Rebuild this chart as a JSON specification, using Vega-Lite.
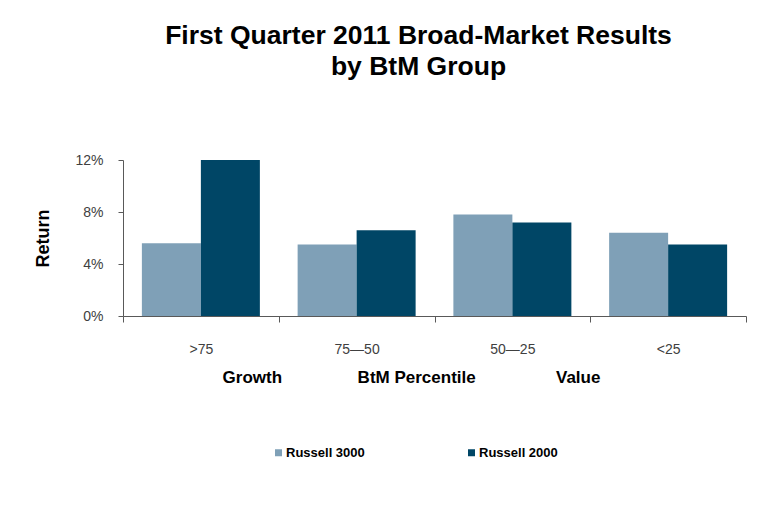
{
  "$schema": "https://vega.github.io/schema/vega-lite/v6.json",
  "width": 623,
  "height": 156,
  "autosize": {"type": "none"},
  "padding": {"left": 123, "top": 160, "right": 23, "bottom": 192},
  "background": "white",
  "title": {
    "text": ["First Quarter 2011 Broad-Market Results", "by BtM Group"],
    "font": "Liberation Sans",
    "fontSize": 26.5,
    "fontWeight": "bold",
    "color": "#000000",
    "lineHeight": 31,
    "anchor": "middle",
    "dx": -16,
    "offset": 73
  },
  "data": {
    "values": [
      {"group": ">75", "series": "Russell 3000", "ret": 0.056},
      {"group": ">75", "series": "Russell 2000", "ret": 0.120},
      {"group": "75—50", "series": "Russell 3000", "ret": 0.055},
      {"group": "75—50", "series": "Russell 2000", "ret": 0.066},
      {"group": "50—25", "series": "Russell 3000", "ret": 0.078},
      {"group": "50—25", "series": "Russell 2000", "ret": 0.072},
      {"group": "<25", "series": "Russell 3000", "ret": 0.064},
      {"group": "<25", "series": "Russell 2000", "ret": 0.055}
    ]
  },
  "mark": {"type": "bar"},
  "encoding": {
    "x": {
      "field": "group",
      "type": "nominal",
      "sort": [">75", "75—50", "50—25", "<25"],
      "scale": {"paddingInner": 0, "paddingOuter": 0},
      "axis": {
        "title": "Growth\u00a0\u00a0\u00a0\u00a0\u00a0\u00a0\u00a0\u00a0\u00a0\u00a0\u00a0\u00a0\u00a0\u00a0\u00a0\u00a0BtM Percentile\u00a0\u00a0\u00a0\u00a0\u00a0\u00a0\u00a0\u00a0\u00a0\u00a0\u00a0\u00a0\u00a0\u00a0\u00a0\u00a0\u00a0Value",
        "titleFont": "Liberation Sans",
        "titleFontSize": 17,
        "titleFontWeight": "bold",
        "titleColor": "#000000",
        "titleX": 288,
        "titleY": 66,
        "titleAlign": "center",
        "titleBaseline": "alphabetic",
        "labelAngle": 0,
        "labelFont": "Liberation Sans",
        "labelFontSize": 14,
        "labelColor": "#404040",
        "labelPadding": 20,
        "tickBand": "extent",
        "tickSize": 6,
        "tickColor": "#595959",
        "domainColor": "#595959",
        "grid": false
      }
    },
    "xOffset": {"field": "series", "type": "nominal", "sort": ["Russell 3000", "Russell 2000"], "scale": {"paddingInner": 0, "paddingOuter": 0.32}},
    "y": {
      "field": "ret",
      "type": "quantitative",
      "scale": {"domain": [0, 0.12]},
      "axis": {
        "title": "Return",
        "titleFont": "Liberation Sans",
        "titleFontSize": 18,
        "titleFontWeight": "bold",
        "titleColor": "#000000",
        "titlePadding": 22,
        "values": [0, 0.04, 0.08, 0.12],
        "format": ".0%",
        "labelFont": "Liberation Sans",
        "labelFontSize": 14,
        "labelColor": "#404040",
        "labelPadding": 15,
        "tickSize": 5,
        "tickColor": "#595959",
        "domainColor": "#595959",
        "grid": false
      }
    },
    "color": {
      "field": "series",
      "type": "nominal",
      "sort": ["Russell 3000", "Russell 2000"],
      "scale": {"domain": ["Russell 3000", "Russell 2000"], "range": ["#7fa0b7", "#004666"]},
      "legend": {
        "title": null,
        "orient": "none",
        "direction": "horizontal",
        "legendX": 149,
        "legendY": 286,
        "symbolType": "square",
        "symbolSize": 49,
        "symbolStrokeWidth": 0,
        "labelFont": "Liberation Sans",
        "labelFontSize": 13,
        "labelFontWeight": "bold",
        "labelColor": "#000000",
        "labelOffset": 1,
        "columnPadding": 100
      }
    }
  },
  "config": {"view": {"stroke": null}}
}
